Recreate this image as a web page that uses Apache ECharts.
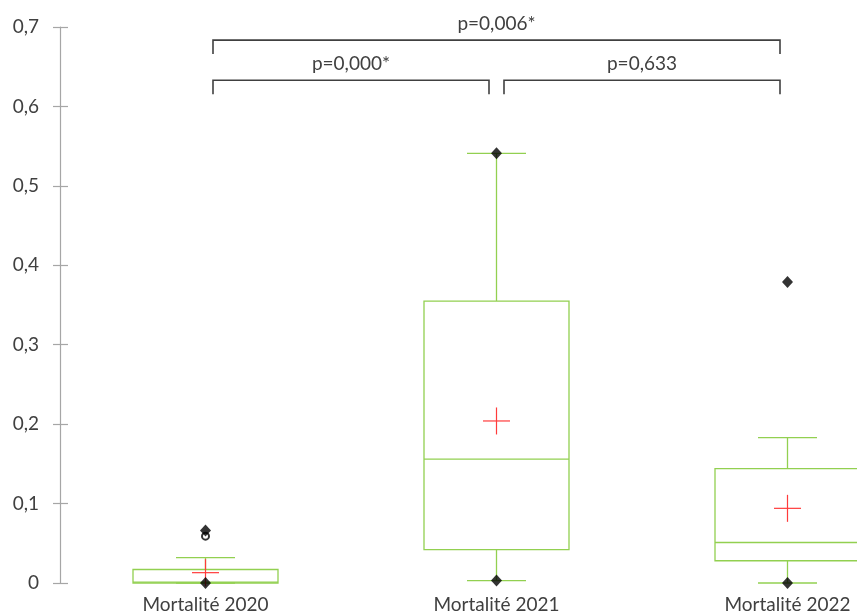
<!DOCTYPE html>
<html>
<head>
<meta charset="utf-8">
<title>Mortalité 2020–2022</title>
<script src="https://cdn.jsdelivr.net/npm/echarts@6/dist/echarts.min.js"></script>
<style>
  html, body { margin: 0; padding: 0; background: #ffffff; }
  #chart { width: 857px; height: 616px; }
</style>
</head>
<body>
<div id="chart"></div>
<script>
// Categories and box-plot statistics
const categories = ['Mortalité 2020', 'Mortalité 2021', 'Mortalité 2022'];
const whiskerLow  = [0.000, 0.003, 0.000];
const q1          = [0.000, 0.042, 0.028];
const median      = [0.001, 0.156, 0.051];
const q3          = [0.017, 0.355, 0.144];
const whiskerHigh = [0.032, 0.541, 0.183];
const means       = [0.013, 0.204, 0.094];
const minima      = [0.000, 0.003, 0.000];
const maxima      = [0.066, 0.541, 0.379];
const outlierCat  = [0];
const outlierVal  = [0.059];

// Y axis ticks
const yMin = 0, yMax = 0.7, yStep = 0.1;

// Pairwise comparisons drawn as brackets above the boxes
const pLabels     = ['p=0,000*', 'p=0,633', 'p=0,006*'];
const pFrom       = [0, 1, 0];
const pTo         = [1, 2, 2];
const pLevel      = [0.633, 0.633, 0.6835];

// Styles
const BOX_COLOR = '#92D050';
const MEAN_COLOR = '#FF3B3B';
const TEXT_COLOR = '#404040';
const FONT = 'Lato, "Open Sans", sans-serif';
const BOX_W = 145, CAP_W = 59, CROSS = 27;
const BR_INSET = 7.5, BR_DROP = 14;

const boxData = categories.map((c, i) =>
  [i, whiskerLow[i], q1[i], median[i], q3[i], whiskerHigh[i], means[i]]);
const extremaData = [];
categories.forEach((c, i) => {
  extremaData.push([i, minima[i]]);
  extremaData.push([i, maxima[i]]);
});
const outlierData = outlierCat.map((c, k) => [c, outlierVal[k]]);
const bracketData = pLabels.map((t, k) => [pFrom[k], pTo[k], pLevel[k]]);

function renderBox(params, api) {
  const i = api.value(0);
  const x = api.coord([i, 0])[0];
  const y = v => api.coord([i, v])[1];
  const yLo = y(api.value(1)), yQ1 = y(api.value(2)), yMed = y(api.value(3));
  const yQ3 = y(api.value(4)), yHi = y(api.value(5)), yMean = y(api.value(6));
  const line = { stroke: BOX_COLOR, lineWidth: 1.3 };
  const half = BOX_W / 2, capHalf = CAP_W / 2, ch = CROSS / 2;
  return {
    type: 'group',
    children: [
      { type: 'line', shape: { x1: x, y1: yQ3, x2: x, y2: yHi }, style: line },
      { type: 'line', shape: { x1: x, y1: yQ1, x2: x, y2: yLo }, style: line },
      { type: 'line', shape: { x1: x - capHalf, y1: yHi, x2: x + capHalf, y2: yHi }, style: line },
      { type: 'line', shape: { x1: x - capHalf, y1: yLo, x2: x + capHalf, y2: yLo }, style: line },
      { type: 'rect', shape: { x: x - half, y: yQ3, width: BOX_W, height: yQ1 - yQ3 },
        style: { fill: 'none', stroke: BOX_COLOR, lineWidth: 1.3 } },
      { type: 'line', shape: { x1: x - half, y1: yMed, x2: x + half, y2: yMed }, style: line },
      { type: 'line', shape: { x1: x - ch, y1: yMean, x2: x + ch, y2: yMean },
        style: { stroke: MEAN_COLOR, lineWidth: 1.2 } },
      { type: 'line', shape: { x1: x, y1: yMean - ch, x2: x, y2: yMean + ch },
        style: { stroke: MEAN_COLOR, lineWidth: 1.2 } }
    ]
  };
}

function renderBracket(params, api) {
  const a = api.coord([api.value(0), api.value(2)]);
  const b = api.coord([api.value(1), api.value(2)]);
  const x1 = a[0] + BR_INSET, x2 = b[0] - BR_INSET, yb = a[1];
  const st = { stroke: '#404040', lineWidth: 1.6, fill: 'none' };
  return {
    type: 'group',
    children: [
      { type: 'polyline', shape: { points: [[x1, yb + BR_DROP], [x1, yb], [x2, yb], [x2, yb + BR_DROP]] }, style: st },
      { type: 'text', x: (x1 + x2) / 2, y: yb - 7,
        style: { text: pLabels[params.dataIndex], fill: TEXT_COLOR, font: '19px ' + FONT,
                 align: 'center', verticalAlign: 'bottom' } }
    ]
  };
}

const chart = echarts.init(document.getElementById('chart'), null, { renderer: 'canvas' });
const axisGray = '#A6A6A6';
chart.setOption({
  animation: false,
  backgroundColor: '#ffffff',
  textStyle: { fontFamily: FONT },
  grid: { left: 60, top: 27, width: 873, height: 556, outerBoundsMode: 'none', containLabel: false },
  xAxis: {
    type: 'category',
    data: categories,
    boundaryGap: true,
    axisLine: { show: false },
    axisTick: { show: false },
    splitLine: { show: false },
    axisLabel: { interval: 0, color: TEXT_COLOR, fontSize: 19, fontFamily: FONT, margin: 12 }
  },
  yAxis: [
    {
      type: 'value', min: yMin, max: yMax, interval: yStep,
      axisLine: { show: true, lineStyle: { color: axisGray, width: 1.2 } },
      axisTick: { show: true, inside: false, length: 7, lineStyle: { color: axisGray, width: 1.2 } },
      splitLine: { show: false },
      axisLabel: {
        color: TEXT_COLOR, fontSize: 19, fontFamily: FONT, margin: 21,
        formatter: v => v === 0 ? '0' : v.toFixed(1).replace('.', ',')
      }
    },
    {
      type: 'value', min: yMin, max: yMax, interval: yStep, position: 'left',
      axisLine: { show: false },
      axisTick: { show: true, inside: true, length: 8, lineStyle: { color: axisGray, width: 1.2 } },
      splitLine: { show: false },
      axisLabel: { show: false }
    }
  ],
  series: [
    {
      type: 'custom', name: 'boxes', renderItem: renderBox, data: boxData,
      encode: { x: 0, y: [1, 2, 3, 4, 5, 6] }, z: 2, clip: false
    },
    {
      type: 'scatter', name: 'extrema', data: extremaData, symbol: 'diamond',
      symbolSize: [11, 12], itemStyle: { color: '#000000' }, z: 4
    },
    {
      type: 'scatter', name: 'outliers', data: outlierData, symbol: 'emptyCircle',
      symbolSize: 7, itemStyle: { color: '#000000', borderWidth: 1.4 }, z: 3
    },
    {
      type: 'custom', name: 'comparisons', renderItem: renderBracket, data: bracketData,
      encode: { x: [0, 1], y: 2 }, z: 5, clip: false
    }
  ]
});
</script>
</body>
</html>
